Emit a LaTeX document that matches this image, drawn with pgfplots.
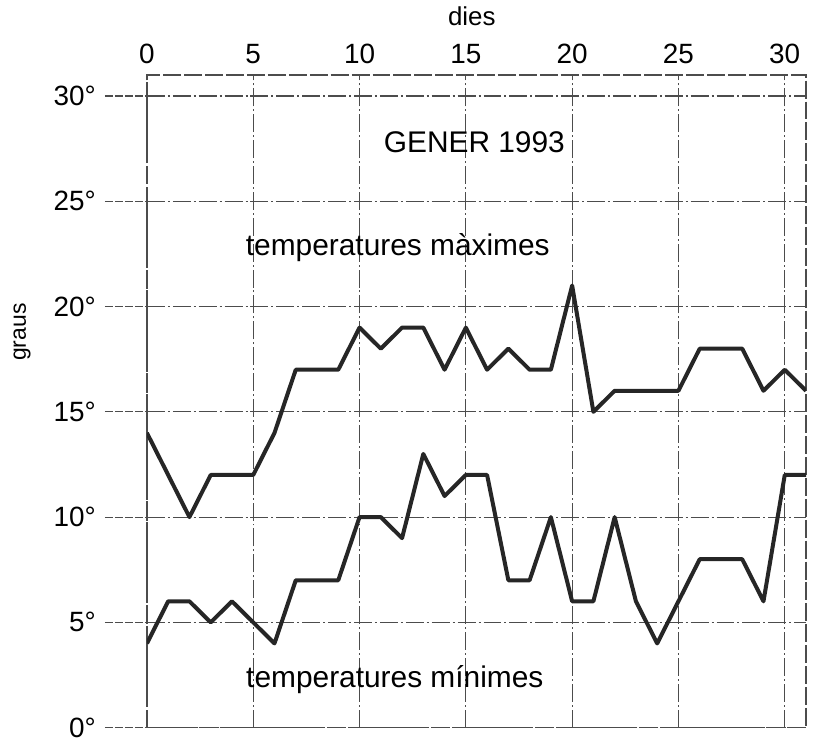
\documentclass[border=0pt]{standalone}
\usepackage{pgfplots}
\pgfplotsset{compat=1.18}
\usepackage{fontspec}
\setmainfont{Liberation Sans}
\usetikzlibrary{calc}
\begin{document}
\begin{tikzpicture}
\begin{axis}[
  scale only axis, width=329.7bp, height=326.5bp,
  xmin=0, xmax=31, ymin=0, ymax=31,
  xtick={0,5,...,30}, ytick={0,5,...,30},
  xticklabels={0,5,10,15,20,25,30},
  yticklabels={0°,5°,10°,15°,20°,25°,30°},
  xticklabel pos=upper, ytick pos=left,
  tick align=outside, major tick length=21bp,
  x tick style={draw=none},
  y tick style={black!70, line width=0.6pt, dash pattern=on 4pt off 1pt},
  xticklabel style={font=\fontsize{14}{14}\selectfont, yshift=-19bp},
  yticklabel style={font=\fontsize{14}{14}\selectfont, xshift=-1bp, inner ysep=0pt},
  grid=major,
  grid style={black!70, line width=0.6pt, dash pattern=on 9pt off 1.5pt on 1pt off 1.5pt},
  axis line style={black!70, line width=0.6pt, dash pattern=on 9pt off 1.5pt},
  xlabel={dies},
  xlabel style={font=\fontsize{13}{13}\selectfont, at={(axis description cs:0.493,1)}, anchor=center, yshift=29.5bp},
  ylabel={graus},
  ylabel style={font=\fontsize{11.5}{11.5}\selectfont, at={(axis description cs:0,0.606)}, anchor=center, yshift=62.5bp, xshift=0bp},
]
\addplot[black!85, line width=2bp, line join=round] coordinates {
(0,14)(1,12)(2,10)(3,12)(4,12)(5,12)(6,14)(7,17)(8,17)(9,17)(10,19)(11,18)(12,19)(13,19)(14,17)(15,19)
(16,17)(17,18)(18,17)(19,17)(20,21)(21,15)(22,16)(23,16)(24,16)(25,16)(26,18)(27,18)(28,18)(29,16)(30,17)(31,16)};
\addplot[black!85, line width=2bp, line join=round] coordinates {
(0,4)(1,6)(2,6)(3,5)(4,6)(5,5)(6,4)(7,7)(8,7)(9,7)(10,10)(11,10)(12,9)(13,13)(14,11)(15,12)
(16,12)(17,7)(18,7)(19,10)(20,6)(21,6)(22,10)(23,6)(24,4)(25,6)(26,8)(27,8)(28,8)(29,6)(30,12)(31,12)};
\node[font=\fontsize{15}{15}\selectfont] at (axis cs:15.4,27.8) {GENER 1993};
\node[font=\fontsize{15}{15}\selectfont] at (axis cs:11.8,22.8) {temperatures màximes};
\node[font=\fontsize{15}{15}\selectfont] at (axis cs:11.66,2.27) {temperatures mínimes};
\end{axis}
\pgfresetboundingbox
\useasboundingbox ($(current axis.south west)+(-73.5bp,-9bp)$) rectangle ($(current axis.north east)+(5.5bp,37.5bp)$);
\end{tikzpicture}
\end{document}
